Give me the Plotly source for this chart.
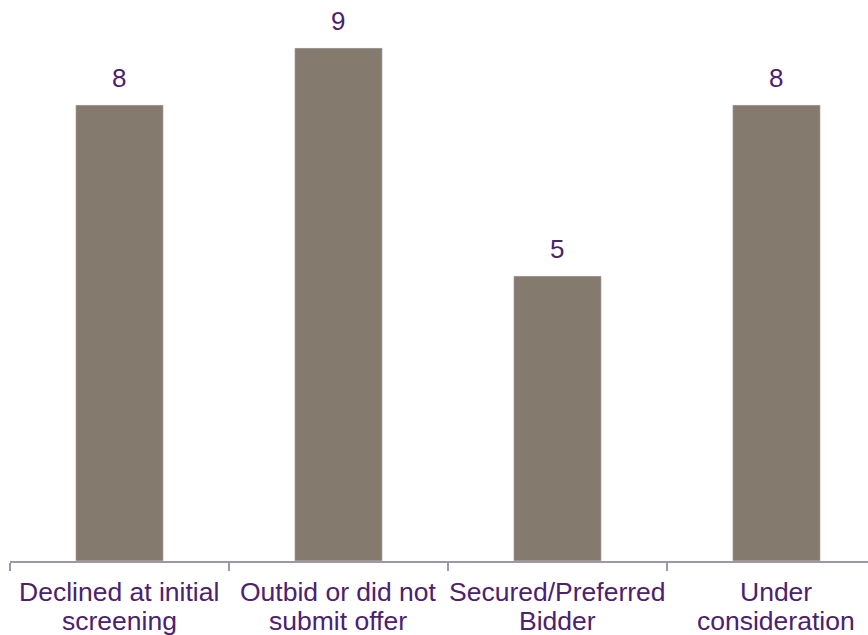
import plotly.graph_objects as go

categories = ["Declined at initial<br>screening", "Outbid or did not<br>submit offer",
              "Secured/Preferred<br>Bidder", "Under<br>consideration"]
values = [8, 9, 5, 8]

BAR = "#857a6e"
TXT = "#4b2170"
AXIS = "#9e97aa"
FONT = "Liberation Sans, Arial, sans-serif"

xs = list(range(len(categories)))

fig = go.Figure(go.Bar(x=xs, y=values, marker_color=BAR, width=0.4,
                       hoverinfo="skip"))

annotations = []
for x, v in zip(xs, values):
    annotations.append(dict(x=x, y=v, xref="x", yref="y", text=str(v), showarrow=False,
                            yanchor="bottom", yshift=10,
                            font=dict(family=FONT, size=26, color=TXT)))
for x, c in zip(xs, categories):
    lines = c.split("<br>")
    for i, line in enumerate(lines):
        annotations.append(dict(x=x, y=0, xref="x", yref="paper", text=line, showarrow=False,
                                yanchor="top", yshift=-14 - 29 * i,
                                font=dict(family=FONT, size=26.5, color=TXT)))

fig.update_layout(
    width=868, height=635,
    margin=dict(l=10, r=0, t=0, b=74),
    paper_bgcolor="white", plot_bgcolor="white",
    showlegend=False,
    annotations=annotations,
    xaxis=dict(range=[-0.5, 3.418], tickmode="array", tickvals=[-0.5, 0.5, 1.5, 2.5],
               showticklabels=False, ticks="outside", ticklen=8, tickwidth=2, tickcolor=AXIS,
               showline=True, linecolor=AXIS, linewidth=2, showgrid=False, zeroline=False,
               fixedrange=True),
    yaxis=dict(range=[0, 9.842], visible=False, showgrid=False, zeroline=False),
)

fig.write_html("out.html")
